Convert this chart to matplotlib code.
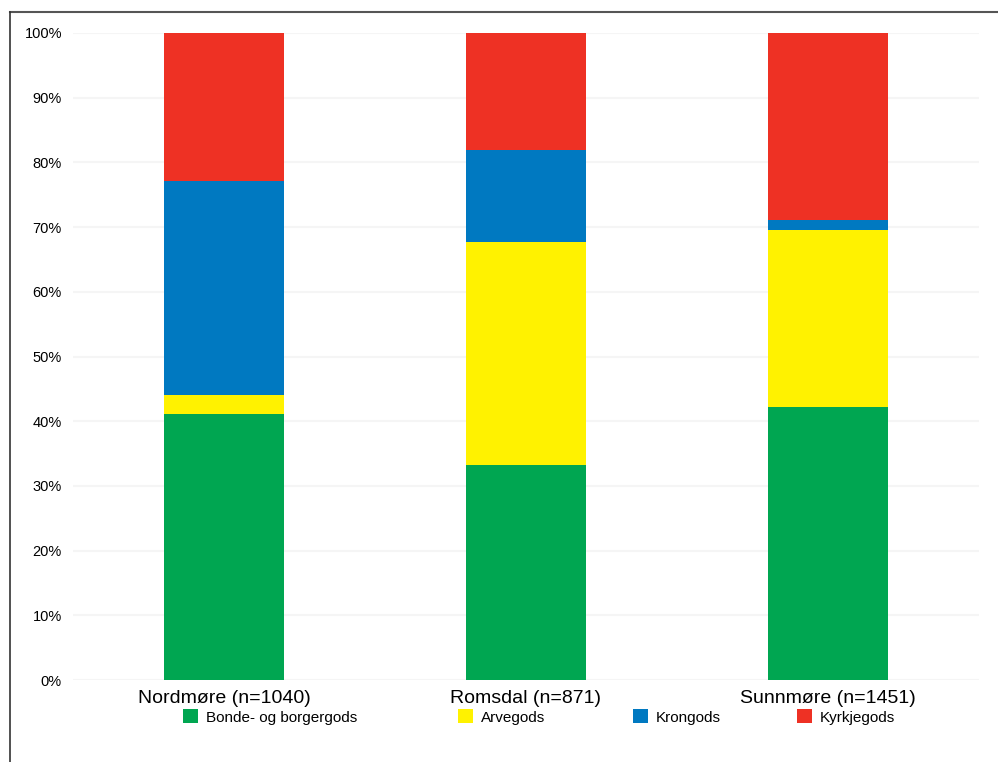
import matplotlib
matplotlib.use("Agg")
import matplotlib.pyplot as plt
from matplotlib.lines import Line2D
from matplotlib.ticker import FuncFormatter, MultipleLocator
import numpy as np

categories = ["Nordmøre (n=1040)", "Romsdal (n=871)", "Sunnmøre (n=1451)"]
series_names = ["Bonde- og borgergods", "Arvegods", "Krongods", "Kyrkjegods"]
bonde = [41.1, 33.2, 42.2]
arve = [3.0, 34.5, 27.4]
krone = [33.0, 14.2, 1.5]
kyrkje = [22.9, 18.1, 28.9]
colors = ["#00a651", "#fff200", "#0079c1", "#ee3124"]

FONT = ["Liberation Sans", "DejaVu Sans"]
plt.rcParams["font.family"] = FONT

W, H = 998, 762
fig = plt.figure(figsize=(W / 100, H / 100), dpi=100)
ax = fig.add_axes([73 / W, 1 - 680 / H, (979 - 73) / W, (680 - 33) / H])

x = np.arange(len(categories))
bottom = np.zeros(len(categories))
handles = []
for name, vals, c in zip(series_names, [bonde, arve, krone, kyrkje], colors):
    b = ax.bar(x, vals, width=0.40, bottom=bottom, color=c, label=name, zorder=3)
    bottom += np.array(vals)
    handles.append(b)

ax.set_xlim(-0.5, 2.5)
ax.set_ylim(0, 100)
ax.yaxis.set_major_locator(MultipleLocator(10))
ax.yaxis.set_major_formatter(FuncFormatter(lambda v, p: f"{int(round(v))}%"))
ax.grid(axis="y", color="#f5f5f5", linewidth=1.5, zorder=0)
for s in ax.spines.values():
    s.set_visible(False)
ax.tick_params(axis="y", length=0, labelsize=10.5, pad=8)
ax.tick_params(axis="x", length=0, pad=7)
ax.set_xticks(x)
ax.set_xticklabels(categories, fontsize=14)

# legend: one entry per position, as in the reference
legend_x = [172, 447, 622, 786]
for h, name, lx in zip(handles, series_names, legend_x):
    leg = fig.legend(handles=[h], labels=[name], loc="center left",
                     bbox_to_anchor=(lx / W, 1 - 717 / H), frameon=False,
                     prop={"size": 11}, handlelength=1.0, handleheight=1.0,
                     handletextpad=0.5, borderpad=0.2)

# frame lines (top and left)
fig.add_artist(Line2D([10 / W, 1.0], [1 - 12 / H, 1 - 12 / H], color="#555555", lw=1.5,
                      transform=fig.transFigure))
fig.add_artist(Line2D([10 / W, 10 / W], [1 - 12 / H, 0], color="#333333", lw=1.2,
                      transform=fig.transFigure))

fig.savefig("out.png", dpi=100)
